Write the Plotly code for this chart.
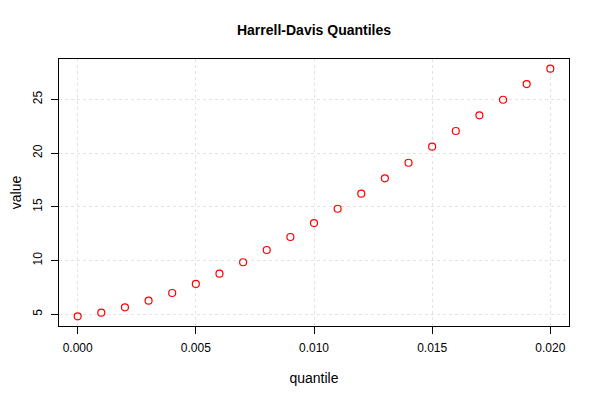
import plotly.graph_objects as go

quantile = [0.000, 0.001, 0.002, 0.003, 0.004, 0.005, 0.006, 0.007, 0.008, 0.009, 0.010,
            0.011, 0.012, 0.013, 0.014, 0.015, 0.016, 0.017, 0.018, 0.019, 0.020]
value = [4.81, 5.15, 5.65, 6.27, 6.98, 7.82, 8.78, 9.84, 10.98, 12.19, 13.49,
         14.82, 16.22, 17.65, 19.10, 20.59, 22.05, 23.51, 24.96, 26.42, 27.85]
x_ticks = [0.000, 0.005, 0.010, 0.015, 0.020]
x_tick_labels = ["0.000", "0.005", "0.010", "0.015", "0.020"]
y_ticks = [5, 10, 15, 20, 25]
y_tick_labels = ["5", "10", "15", "20", "25"]

# page body adds an 8px offset; compensate in margins
OFF = 8
fig = go.Figure()
fig.add_trace(go.Scatter(
    x=quantile, y=value, mode="markers",
    marker=dict(symbol="circle-open", size=7, color="red", line=dict(width=1.2, color="red")),
    showlegend=False,
))

font = dict(family="Liberation Sans, Arial, sans-serif", size=12, color="black")
fig.update_layout(
    width=600, height=400,
    margin=dict(l=59 - OFF, r=31 + OFF, t=59 - OFF, b=74 + OFF, autoexpand=False),
    paper_bgcolor="white", plot_bgcolor="white",
    font=font,
    title=dict(text="<b>Harrell-Davis Quantiles</b>", x=(59 + 569) / 2 / 600 - OFF / 600, xanchor="center",
               y=1 - (30 - OFF) / 400, yanchor="middle", automargin=False,
               font=dict(size=14, family="Liberation Sans, Arial, sans-serif")),
    xaxis=dict(
        range=[-0.00079, 0.02079], tickvals=x_ticks, ticktext=x_tick_labels,
        ticks="outside", ticklen=7, tickcolor="black", tickwidth=1,
        showline=True, linecolor="black", linewidth=1, mirror=True,
        showgrid=True, gridcolor="#e3e3e3", griddash="dot", gridwidth=1,
        zeroline=False, ticklabelstandoff=4, automargin=False,
        title=dict(text="quantile", standoff=18),
    ),
    yaxis=dict(
        range=[3.91, 28.75], tickvals=y_ticks, ticktext=y_tick_labels,
        ticks="outside", ticklen=7, tickcolor="black", tickwidth=1, tickangle=-90,
        showline=True, linecolor="black", linewidth=1, mirror=True,
        showgrid=True, gridcolor="#e3e3e3", griddash="dot", gridwidth=1,
        zeroline=False, ticklabelstandoff=4, automargin=False,
        title=dict(text="value", standoff=14),
    ),
)
fig.write_html("out.html")
